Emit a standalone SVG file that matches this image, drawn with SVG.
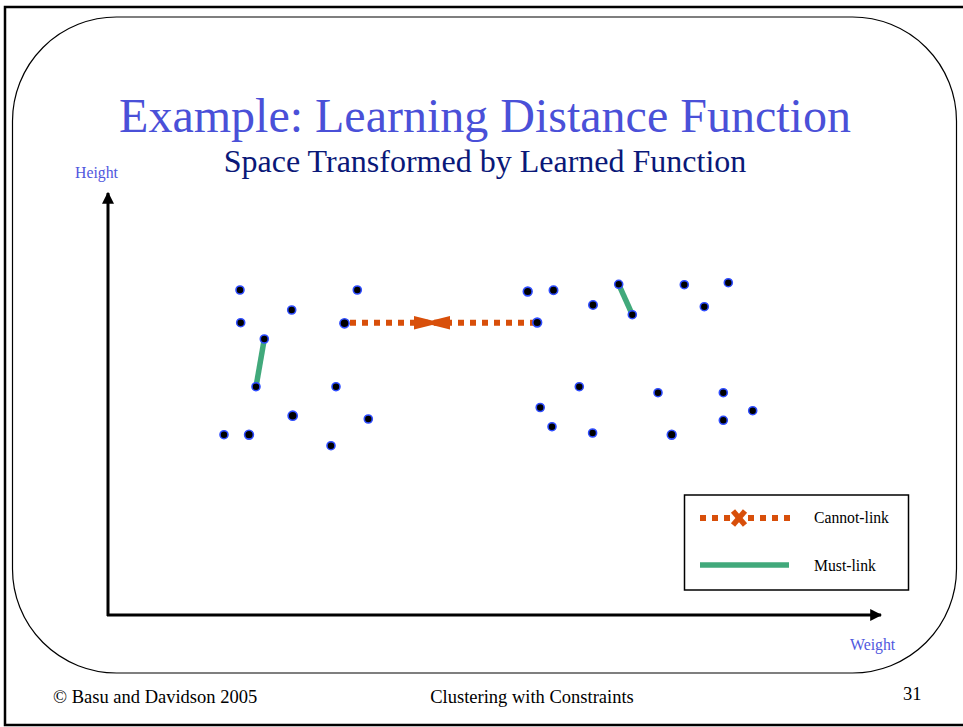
<svg xmlns="http://www.w3.org/2000/svg" width="963" height="727" viewBox="0 0 963 727">
  <style>
    .pt { fill: #000; stroke: #2f4dff; stroke-width: 1.6; }
    .must { stroke: #41a97b; stroke-width: 5.5; stroke-linecap: butt; }
    .cannot { stroke: #d84f0a; stroke-width: 6; stroke-dasharray: 6 6; }
    .axis { stroke: #000; stroke-width: 3; fill: none; }
  </style>
  <defs>
    <marker id="arrow" viewBox="0 0 10 10" refX="9" refY="5" markerWidth="4" markerHeight="4" orient="auto" markerUnits="strokeWidth">
      <path d="M0,0 L10,5 L0,10 z" fill="#000"/>
    </marker>
  </defs>

  <rect width="963" height="727" fill="#fff"/>
  <!-- page frame -->
  <rect x="5" y="7" width="970" height="718" fill="none" stroke="#000" stroke-width="2.5"/>
  <rect x="12.5" y="17" width="944" height="656" rx="104" ry="104" fill="none" stroke="#000" stroke-width="1.2"/>

  <g font-family="'Liberation Serif', 'Times New Roman', 'DejaVu Serif', serif">
    <!-- titles -->
    <text x="485" y="132" font-size="48" fill="#4a50d8" text-anchor="middle">Example: Learning Distance Function</text>
    <text x="485" y="172" font-size="32" fill="#0a1878" text-anchor="middle">Space Transformed by Learned Function</text>

    <!-- axes -->
    <g id="axes">
      <line class="axis" x1="108" y1="616" x2="108" y2="193" marker-end="url(#arrow)"/>
      <line class="axis" x1="107" y1="615" x2="881" y2="615" marker-end="url(#arrow)"/>
      <text x="75" y="178" font-size="15.8" fill="#5058de">Height</text>
      <text x="850" y="650" font-size="15.8" fill="#5058de">Weight</text>
    </g>

    <!-- constraints -->
    <g id="connectors">
      <line class="cannot" x1="350" y1="322.7" x2="535" y2="322.7"/>
      <polygon points="414,316 432,320.5 450,316 450,329.5 432,325 414,329.5" fill="#d84f0a"/>
      <line class="must" x1="264.3" y1="339" x2="256" y2="386.7"/>
      <line class="must" x1="618.7" y1="284.3" x2="632.3" y2="314.7"/>
    </g>

    <!-- data points -->
    <g id="points">
      <circle class="pt" cx="240" cy="290" r="4"/>
      <circle class="pt" cx="291.7" cy="310" r="4"/>
      <circle class="pt" cx="357.3" cy="290" r="4"/>
      <circle class="pt" cx="240.7" cy="322.7" r="4"/>
      <circle class="pt" cx="344.5" cy="323.3" r="4.6"/>
      <circle class="pt" cx="264.3" cy="339" r="4"/>
      <circle class="pt" cx="256" cy="386.7" r="4"/>
      <circle class="pt" cx="336" cy="386.7" r="4"/>
      <circle class="pt" cx="292.7" cy="415.7" r="4.6"/>
      <circle class="pt" cx="368.3" cy="419" r="4"/>
      <circle class="pt" cx="224" cy="434.7" r="4"/>
      <circle class="pt" cx="249" cy="434.7" r="4.4"/>
      <circle class="pt" cx="331" cy="445.7" r="4"/>

      <circle class="pt" cx="527.7" cy="291.5" r="4.4"/>
      <circle class="pt" cx="553.5" cy="290.2" r="4.2"/>
      <circle class="pt" cx="593" cy="305" r="4.2"/>
      <circle class="pt" cx="537.2" cy="322.5" r="4.4"/>
      <circle class="pt" cx="618.7" cy="284.3" r="4"/>
      <circle class="pt" cx="632.3" cy="314.7" r="4"/>
      <circle class="pt" cx="684.3" cy="284.7" r="4"/>
      <circle class="pt" cx="704.3" cy="306.7" r="4"/>
      <circle class="pt" cx="728.3" cy="282.7" r="4"/>
      <circle class="pt" cx="579.3" cy="386.7" r="4"/>
      <circle class="pt" cx="540.2" cy="407.5" r="4"/>
      <circle class="pt" cx="552" cy="426.7" r="4"/>
      <circle class="pt" cx="592.6" cy="433" r="4"/>
      <circle class="pt" cx="658" cy="392.7" r="4"/>
      <circle class="pt" cx="671.7" cy="434.7" r="4.4"/>
      <circle class="pt" cx="723.3" cy="392.7" r="4"/>
      <circle class="pt" cx="752.7" cy="410.7" r="4"/>
      <circle class="pt" cx="723.3" cy="420.3" r="4"/>
    </g>

    <!-- legend -->
    <g id="legend">
      <rect x="684.5" y="495" width="224" height="95" fill="#fff" stroke="#000" stroke-width="1.5"/>
      <line class="cannot" x1="700" y1="518" x2="790" y2="518" stroke-width="5" stroke-dasharray="5 6"/>
      <g stroke="#d84f0a" stroke-width="5.5">
        <line x1="733" y1="511" x2="745" y2="525"/>
        <line x1="745" y1="511" x2="733" y2="525"/>
      </g>
      <text x="814" y="523" font-size="15.7" fill="#000">Cannot-link</text>
      <line class="must" x1="700" y1="565" x2="789" y2="565"/>
      <text x="814" y="571" font-size="15.7" fill="#000">Must-link</text>
    </g>

    <!-- footer -->
    <text x="53" y="703" font-size="18.5" fill="#000">© Basu and Davidson 2005</text>
    <text x="532" y="703" font-size="18.5" fill="#000" text-anchor="middle">Clustering with Constraints</text>
    <text x="903" y="700" font-size="18.5" fill="#000">31</text>
  </g>
</svg>
